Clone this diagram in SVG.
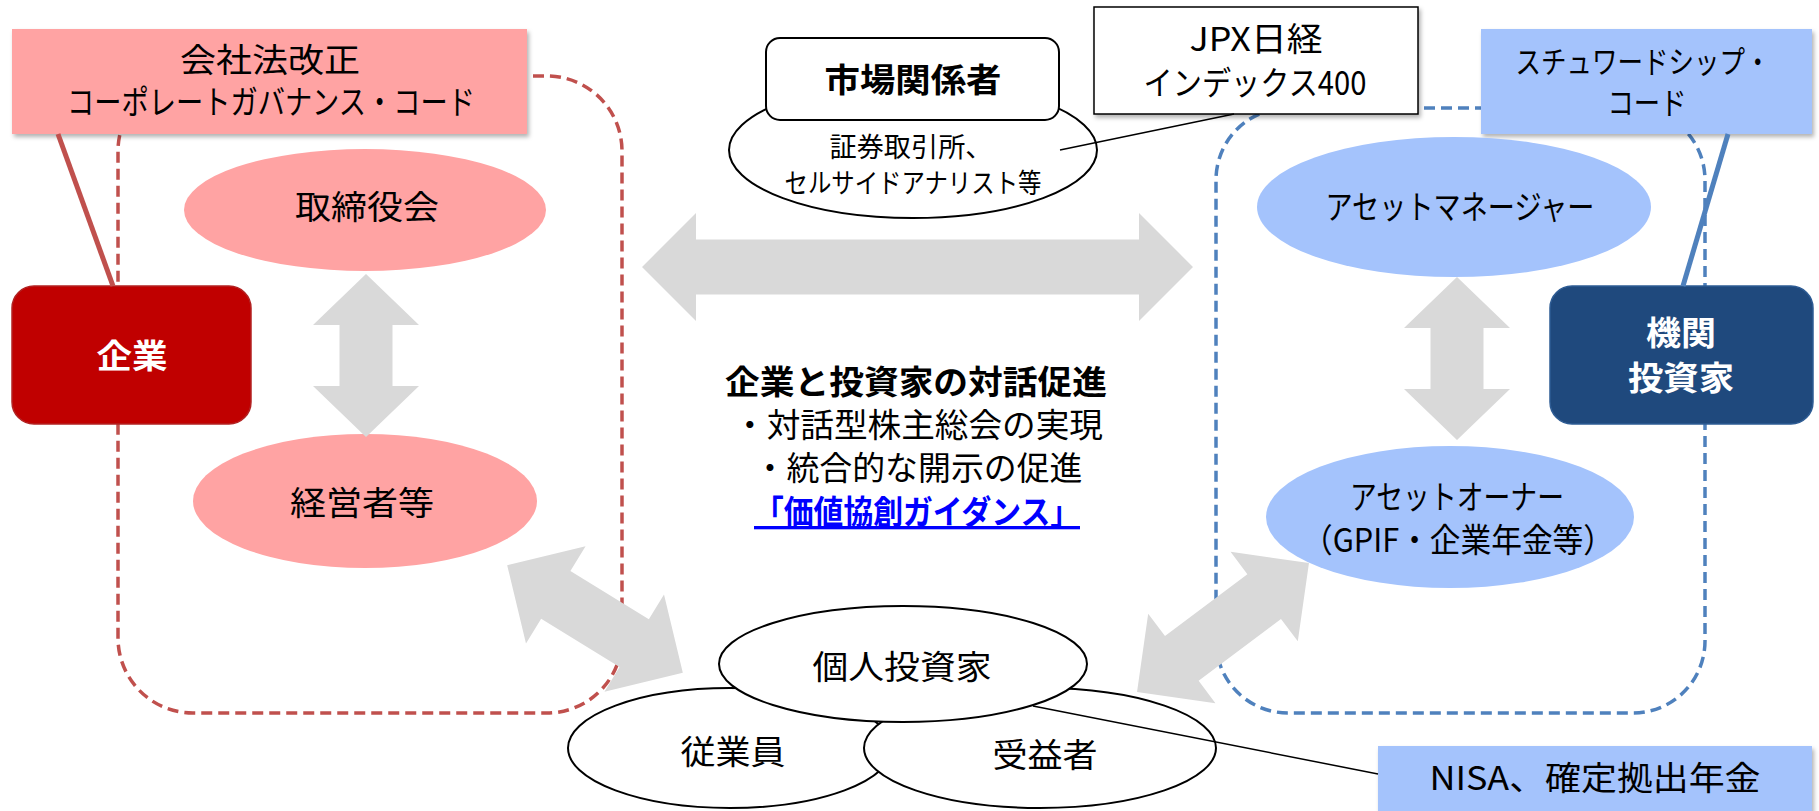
<svg xmlns="http://www.w3.org/2000/svg" width="1819" height="811" viewBox="0 0 1819 811">
<defs>
<filter id="sh" x="-5%" y="-10%" width="115%" height="130%">
<feDropShadow dx="2" dy="3" stdDeviation="2" flood-color="#000" flood-opacity="0.3"/>
</filter>
</defs>
<style>
text{font-family:'Noto Sans CJK JP',sans-serif;font-size:33px;fill:#000;text-anchor:middle}
.b{font-weight:bold}
.w{fill:#fff}
.s{font-size:27px}
.m{font-size:31px}
.lnk{fill:#0000FF;font-weight:bold;text-decoration:underline}
.frR{fill:none;stroke:#C0504D;stroke-width:3.5;stroke-dasharray:11 6}
.frB{fill:none;stroke:#4F81BD;stroke-width:3.5;stroke-dasharray:11 6}
.pink{fill:#FFA3A3}
.lblue{fill:#A4C3FC}
.arr{fill:#D9D9D9}
.oval{fill:#fff;stroke:#000;stroke-width:2}
</style>
<rect width="1819" height="811" fill="#fff"/>
<g id="frames">
<rect class="frR" x="118" y="76" width="504" height="637" rx="75"/>
<rect class="frB" x="1216" y="108" width="489" height="605" rx="72"/>
</g>
<g id="n-company-law">
<rect class="pink" x="12" y="29" width="515" height="105" filter="url(#sh)"/>
<text><tspan x="270" y="72" textLength="180" lengthAdjust="spacingAndGlyphs">会社法改正</tspan><tspan x="271" y="114" textLength="408" lengthAdjust="spacingAndGlyphs">コーポレートガバナンス・コード</tspan></text>
</g>
<g id="n-board">
<ellipse class="pink" cx="365" cy="210" rx="181" ry="61"/>
<text x="367" y="219" textLength="144" lengthAdjust="spacingAndGlyphs">取締役会</text>
</g>
<g id="n-management">
<ellipse class="pink" cx="365" cy="501" rx="172" ry="67"/>
<text x="362" y="515" textLength="144" lengthAdjust="spacingAndGlyphs">経営者等</text>
</g>
<g id="n-company">
<rect x="12" y="286" width="239" height="138" rx="22" fill="#C00000" stroke="#B22222" stroke-width="1.5"/>
<text class="b w" x="132" y="368" textLength="71" lengthAdjust="spacingAndGlyphs">企業</text>
</g>
<g id="n-market">
<ellipse class="oval" cx="913" cy="150" rx="184" ry="68"/>
<rect x="766" y="38" width="293" height="82" rx="14" fill="#fff" stroke="#000" stroke-width="2"/>
<text class="b" x="913" y="92" textLength="177" lengthAdjust="spacingAndGlyphs">市場関係者</text>
<text class="s"><tspan x="911" y="157" textLength="163" lengthAdjust="spacingAndGlyphs">証券取引所、</tspan><tspan x="913" y="193" textLength="257" lengthAdjust="spacingAndGlyphs">セルサイドアナリスト等</tspan></text>
</g>
<g id="n-jpx">
<rect x="1094" y="7" width="324" height="107" fill="#fff" stroke="#000" stroke-width="1.5" filter="url(#sh)"/>
<text><tspan x="1256" y="51" textLength="133" lengthAdjust="spacingAndGlyphs">JPX日経</tspan><tspan x="1255" y="95" textLength="223" lengthAdjust="spacingAndGlyphs">インデックス400</tspan></text>
</g>
<g id="n-stewardship">
<rect class="lblue" x="1481" y="29" width="331" height="105" filter="url(#sh)"/>
<text class="m"><tspan x="1643" y="73" textLength="255" lengthAdjust="spacingAndGlyphs">スチュワードシップ・</tspan><tspan x="1647" y="114" textLength="79" lengthAdjust="spacingAndGlyphs">コード</tspan></text>
</g>
<g id="n-asset-manager">
<ellipse class="lblue" cx="1454" cy="207" rx="197" ry="70"/>
<text x="1460" y="219" textLength="269" lengthAdjust="spacingAndGlyphs">アセットマネージャー</text>
</g>
<g id="n-institutional">
<rect x="1550" y="286" width="263" height="138" rx="22" fill="#1F497D" stroke="#2E5C94" stroke-width="1.5"/>
<text class="b w"><tspan x="1681" y="345" textLength="70" lengthAdjust="spacingAndGlyphs">機関</tspan><tspan x="1681" y="390" textLength="106" lengthAdjust="spacingAndGlyphs">投資家</tspan></text>
</g>
<g id="n-asset-owner">
<ellipse class="lblue" cx="1450" cy="517" rx="184" ry="71"/>
<text><tspan x="1457" y="509" textLength="214" lengthAdjust="spacingAndGlyphs">アセットオーナー</tspan><tspan x="1458" y="552" textLength="312" lengthAdjust="spacingAndGlyphs">（GPIF・企業年金等）</tspan></text>
</g>
<g id="n-dialogue">
<text><tspan class="b" x="916" y="394" textLength="382" lengthAdjust="spacingAndGlyphs">企業と投資家の対話促進</tspan><tspan x="918" y="437" textLength="370" lengthAdjust="spacingAndGlyphs">・対話型株主総会の実現</tspan><tspan x="918" y="480" textLength="329" lengthAdjust="spacingAndGlyphs">・統合的な開示の促進</tspan><tspan class="lnk" x="917" y="524" textLength="326" lengthAdjust="spacingAndGlyphs">「価値協創ガイダンス」</tspan></text>
</g>
<g id="n-employee">
<ellipse class="oval" cx="730" cy="748" rx="162" ry="60"/>
<text x="733" y="764" textLength="105" lengthAdjust="spacingAndGlyphs">従業員</text>
</g>
<g id="n-beneficiary">
<ellipse class="oval" cx="1040" cy="748" rx="176" ry="60"/>
<text x="1045" y="767" textLength="105" lengthAdjust="spacingAndGlyphs">受益者</text>
</g>
<g id="n-individual">
<ellipse class="oval" cx="903" cy="664" rx="184" ry="58"/>
<text x="902" y="679" textLength="179" lengthAdjust="spacingAndGlyphs">個人投資家</text>
</g>
<g id="n-nisa">
<rect class="lblue" x="1378" y="746" width="434" height="68" filter="url(#sh)"/>
<text x="1595" y="790" textLength="331" lengthAdjust="spacingAndGlyphs">NISA、確定拠出年金</text>
</g>
<g id="connectors">
<line x1="58" y1="134" x2="113" y2="286" stroke="#C0504D" stroke-width="5"/>
<line x1="1728" y1="134" x2="1683" y2="286" stroke="#4F81BD" stroke-width="5"/>
<line x1="1060" y1="150" x2="1234" y2="114" stroke="#000" stroke-width="1.5"/>
<line x1="1033" y1="706" x2="1378" y2="774" stroke="#000" stroke-width="1.5"/>
<polygon class="arr" transform="translate(917.5,267)" points="-275.5,0 -221.5,-54 -221.5,-27.5 221.5,-27.5 221.5,-54 275.5,0 221.5,54 221.5,27.5 -221.5,27.5 -221.5,54"/>
<polygon class="arr" transform="translate(366,355.5) rotate(90)" points="-81.5,0 -30.5,-53 -30.5,-26.5 30.5,-26.5 30.5,-53 81.5,0 30.5,53 30.5,26.5 -30.5,26.5 -30.5,53"/>
<polygon class="arr" transform="translate(1457,358.5) rotate(90)" points="-81.5,0 -30.5,-53 -30.5,-26.5 30.5,-26.5 30.5,-53 81.5,0 30.5,53 30.5,26.5 -30.5,26.5 -30.5,53"/>
<polygon class="arr" transform="translate(595,619) rotate(31.5)" points="-103,0 -46,-57 -46,-28 46,-28 46,-57 103,0 46,57 46,28 -46,28 -46,57"/>
<polygon class="arr" transform="translate(1223,627.5) rotate(-36.9)" points="-107.5,0 -51.5,-56 -51.5,-28 51.5,-28 51.5,-56 107.5,0 51.5,56 51.5,28 -51.5,28 -51.5,56"/>
</g>
</svg>
